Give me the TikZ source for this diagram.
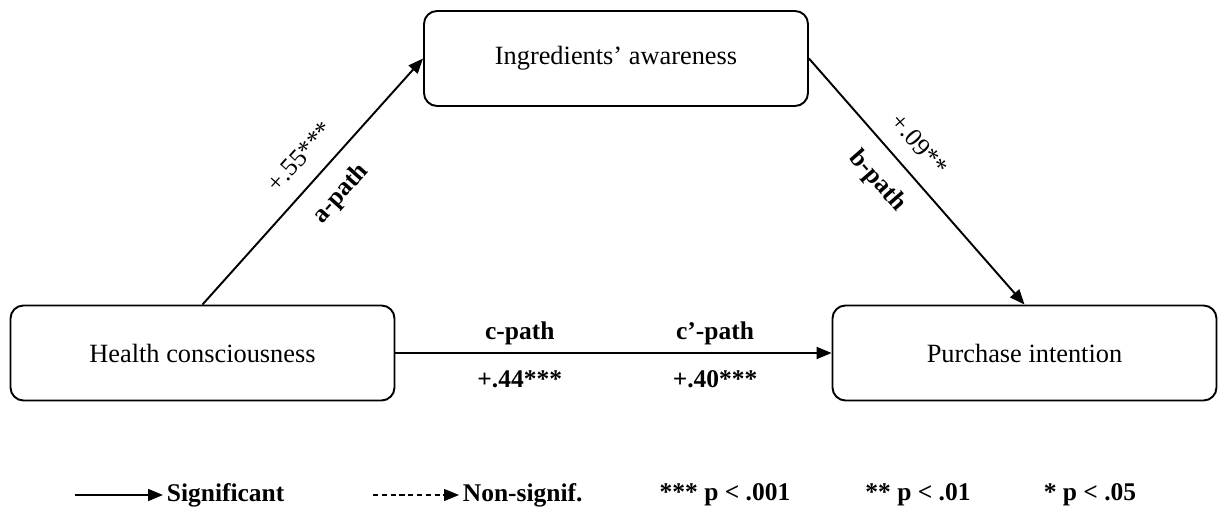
\documentclass[tikz,border=0pt]{standalone}
\usepackage{fontspec}
\setmainfont{Liberation Serif}
\usetikzlibrary{arrows.meta}

\begin{document}
\begin{tikzpicture}[
    box/.style={draw, line width=1.1pt, rounded corners=0.26cm, minimum width=7.68cm, minimum height=1.9cm, font=\fontsize{15}{18}\selectfont},
    arr/.style={line width=1.1pt, -{Triangle[length=0.3cm, width=0.24cm]}},
    coef/.style={font=\fontsize{14.5}{17}\selectfont},
    pth/.style={font=\fontsize{14.5}{17}\selectfont\bfseries}]
    \useasboundingbox (0, 0) rectangle (24.38, 10.34);
    \path (12.32, 9.17) node[box] (IA) {Ingredients’ awareness} (4.05, 3.28) node[box] (HC) {Health consciousness} (20.49, 3.28) node[box] (PI) {Purchase intention};
    \draw[arr] (HC.north) -- (IA.west) node[coef, pos=0.53, sloped, above=0.22cm] {+.55***} node[pth, pos=0.53, sloped, below=0.22cm] {a-path};
    \draw[arr] (IA.east) -- (PI.north) node[coef, pos=0.42, sloped, above=0.22cm] {+.09**} node[pth, pos=0.42, sloped, below=0.22cm] {b-path};
    \draw[arr] (HC.east) -- (PI.west) node[pth, pos=0.285, above=0.02cm] {c-path} node[pth, pos=0.285, below=0.22cm] {+.44***} node[pth, pos=0.733, above=0.02cm] {c’-path} node[pth, pos=0.733, below=0.22cm] {+.40***};
    % legend
    \path (1.5, 0.44) coordinate (s0) (7.46, 0.44) coordinate (n0);
    \path (3.26, 0.44) node[pth, anchor=west, inner sep=2pt] (sig) {Significant} (9.18, 0.44) node[pth, anchor=west, inner sep=2pt] (nsig) {Non-signif.};
    \draw[arr, line width=0.9pt] (s0) -- (sig.west);
    \draw[arr, line width=0.6pt, densely dashed] (n0) -- (nsig.west);
    \path (14.5, 0.44) node[pth] (p1) {*** p < .001} (18.36, 0.44) node[pth] (p2) {** p < .01} (21.8, 0.44) node[pth] (p3) {* p < .05};
\end{tikzpicture}
\end{document}
